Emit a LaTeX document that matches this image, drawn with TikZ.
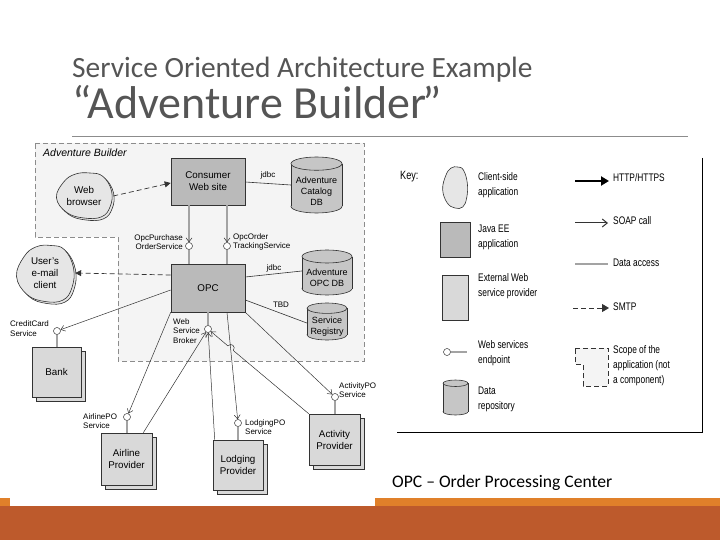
\documentclass[tikz,border=0pt]{standalone}
\usepackage{fontspec}
\setmainfont{Liberation Sans}
\newfontfamily\titlefont{Carlito}
\newfontfamily\narrowfont[FakeStretch=0.76]{Liberation Sans}
\usetikzlibrary{arrows.meta,shadows,calc}
\definecolor{javafill}{HTML}{BABABA}
\definecolor{provfill}{HTML}{D9D9D9}
\definecolor{cylfill}{HTML}{C6C6C6}
\definecolor{blobfill}{HTML}{E6E6E6}
\definecolor{scopefill}{HTML}{F4F4F4}
\definecolor{edge}{HTML}{333333}
\definecolor{stemgray}{HTML}{A3A3A3}
\definecolor{titlecol}{HTML}{555555}
\definecolor{rulecol}{HTML}{8C8C8C}
\definecolor{lightor}{HTML}{E0802A}
\definecolor{darkor}{HTML}{BD5A2C}
\newcommand{\mycyl}[5]{%
  \pgfmathsetmacro{\crx}{#4/2}%
  \pgfmathsetmacro{\cry}{#4*0.13}%
  \pgfmathsetmacro{\cyt}{#3-#5/2+\cry}%
  \pgfmathsetmacro{\cyb}{#3+#5/2-\cry}%
  \filldraw[cylstyle] (#2,\cyb) ellipse [x radius=\crx pt, y radius=\cry pt];
  \fill[cylfill] (#2-\crx,\cyt) rectangle (#2+\crx,\cyb);
  \draw[cylstyle] (#2-\crx,\cyt) -- (#2-\crx,\cyb) (#2+\crx,\cyt) -- (#2+\crx,\cyb);
  \filldraw[cylstyle] (#2,\cyt) ellipse [x radius=\crx pt, y radius=\cry pt];
  \node[minimum width=#4pt, minimum height=#5pt] (#1) at (#2,#3) {};
}
\newcommand{\myblob}[5]{%
  \draw[#5, shift={(#1,#2)}, xscale=#3, yscale=#4] plot[smooth cycle, tension=0.7] coordinates {(0.2,-1) (0.65,-0.85) (0.95,-0.2) (0.9,0.5) (0.6,0.95) (0,1) (-0.6,0.75) (-0.95,0.1) (-0.7,-0.6) (-0.3,-0.95)};
}
\begin{document}
\begin{tikzpicture}[x=1pt,y=-1pt,
  every node/.style={inner sep=0pt},
  boxfont/.style={font=\fontsize{9.8}{12}\selectfont},
  cylfont/.style={font=\fontsize{9}{11}\selectfont},
  javabox/.style={draw=edge, fill=javafill, line width=0.6pt, align=center, boxfont},
  provbox/.style={draw=edge, fill=provfill, line width=0.6pt, align=center, boxfont,
     copy shadow={shadow xshift=4pt, shadow yshift=-4pt, fill=provfill, draw=edge, line width=0.6pt}},
  cylstyle/.style={draw=edge, fill=cylfill, line width=0.6pt},
  blobstyle/.style={draw=edge, fill=blobfill, line width=0.6pt},
  ep/.style={circle, draw=edge, fill=white, minimum size=7pt, line width=0.5pt},
  stem/.style={draw=stemgray, line width=1.2pt},
  soap/.style={draw=edge, line width=0.5pt, -{Straight Barb[length=4pt,width=6pt]}},
  soapgray/.style={draw=stemgray, line width=1.6pt, -{Straight Barb[length=4pt,width=6pt,color=edge,line width=0.5pt]}},
  smtp/.style={draw=edge, line width=0.7pt, dash pattern=on 5pt off 3pt, -{Triangle[length=6pt,width=6pt]}},
  http/.style={draw=black, line width=2pt, -{Triangle[length=8pt,width=9pt]}},
  dataline/.style={draw=edge, line width=0.6pt},
  scopebox/.style={draw=rulecol, fill=scopefill, line width=0.7pt, dash pattern=on 5pt off 3pt},
  lbl/.style={font=\fontsize{8}{9.5}\selectfont, align=left},
  leg/.style={font=\narrowfont\fontsize{11}{15}\selectfont, align=left}]
\useasboundingbox (0,0) rectangle (720,540);
% bottom bars
\fill[lightor] (0,498) rectangle (720,506);
\fill[darkor] (0,506) rectangle (720,540);
\fill[white] (10,498) rectangle (375,506);
% titles
\node[anchor=base west, font=\titlefont\fontsize{29.4}{34}\selectfont, text=titlecol] (t1) at (72,77.5) {Service Oriented Architecture Example};
\node[anchor=base west, font=\titlefont\fontsize{46}{50}\selectfont, text=titlecol] (t2) at (72,119) {“Adventure Builder\kern-4pt”};
\draw[rulecol, line width=0.8pt] (72,136) -- (688,136);
\node[anchor=base west, font=\titlefont\fontsize{17.6}{20}\selectfont] (opcnote) at (392,487) {OPC – Order Processing Center};
% scope of application
\draw[scopebox] (35,143) -- (364,143) -- (364,361) -- (118,361) -- (118,237) -- (35,237) -- cycle;
\node[anchor=base west, font=\itshape\fontsize{10.5}{12}\selectfont] (abl) at (43,157) {Adventure Builder};
% client blobs
\myblob{86}{197.5}{29}{22.5}{blobstyle}
\myblob{84}{195.5}{29}{22.5}{blobstyle}
\node[boxfont, align=center, minimum width=58pt, minimum height=44pt] (wb) at (84,196) {Web\\browser};
\myblob{47}{275.5}{30}{28}{blobstyle}
\myblob{45}{273.5}{30}{28}{blobstyle}
\node[boxfont, align=center, minimum width=60pt, minimum height=54pt] (uec) at (45,273) {User's\\e-mail\\client};
% Java EE apps
\node[javabox, minimum width=74pt, minimum height=47pt] (cws) at (208,181.5) {Consumer\\Web site};
\node[javabox, minimum width=74pt, minimum height=48pt] (opc) at (208,288) {OPC};
% data repositories
\mycyl{catdb}{316.5}{185}{51}{56}
\node[cylfont, align=center] (catdbT) at (316.5,191) {Adventure\\Catalog\\DB};
\mycyl{opcdb}{327}{272.5}{50}{45}
\node[cylfont, align=center] (opcdbT) at (327,277.5) {Adventure\\OPC DB};
\mycyl{reg}{327}{321.5}{40}{37}
\node[cylfont, align=center] (regT) at (327,327) {Service\\Registry};
% external providers
\node[provbox, minimum width=49pt, minimum height=50pt] (bank) at (56.5,372) {Bank};
\node[provbox, minimum width=51pt, minimum height=52pt] (air) at (126.5,459) {Airline\\Provider};
\node[provbox, minimum width=50pt, minimum height=50pt] (lod) at (238,465) {Lodging\\Provider};
\node[provbox, minimum width=51pt, minimum height=51pt] (act) at (334.5,439.5) {Activity\\Provider};
% endpoints
\node[ep] (epP) at (189,246) {};
\node[ep] (epT) at (227,246) {};
\node[ep] (epCC) at (57,331) {};
\node[ep] (brk) at (208,329) {};
\node[ep] (epAir) at (127,417) {};
\node[ep] (epLod) at (238,423) {};
\node[ep] (epAct) at (335,397) {};
% stems
\draw[stem] (epP.south) -- (epP |- opc.north);
\draw[stem] (epT.south) -- (epT |- opc.north);
\draw[stem] (epCC.south) -- (epCC |- bank.north);
\draw[stem] (brk.north) -- (brk |- opc.south);
\draw[stem] (epAir.south) -- (epAir |- air.north);
\draw[stem] (epLod.south) -- (epLod |- lod.north);
\draw[stem] (epAct.south) -- (epAct |- act.north);
% consumer to OPC services
\draw[soapgray] (epP |- cws.south) -- (epP.north);
\draw[soapgray] (epT |- cws.south) -- (epT.north);
% HTTP / SMTP
\draw[smtp] (wb.east) -- ([yshift=-1.5pt]cws.west);
\draw[smtp] ([yshift=13pt]opc.west) -- (uec.east);
% data access
\draw[dataline] ([yshift=-0.5pt]cws.east) -- (catdb.west);
\draw[dataline] ([yshift=11pt]opc.east) -- ([yshift=1.5pt]opcdb.west);
\draw[dataline] ([yshift=-12pt]opc.east) -- ([yshift=-1.5pt]reg.west);
\node[lbl] (j1) at (268,175.5) {jdbc};
\node[lbl] (j2) at (274,268) {jdbc};
\node[lbl] (tbd) at (281,304.5) {TBD};
% SOAP calls
\draw[soap] ([yshift=-2pt]opc.west) -- (epCC);
\draw[soap] (opc.south west) -- (epAir);
\draw[soap] ([xshift=-9pt]air.north east) -- (brk);
\draw[soap] ([xshift=2pt]lod.north west) -- (brk);
\draw[soap] ([xshift=19pt]opc.south) -- (epLod);
\draw[soap] (opc.south east) -- (epAct);
\coordinate (hopA) at (233.3,350.5);
\coordinate (hopB) at (227.9,345.9);
\draw[soap] (act.north west) -- (hopA) .. controls (236.5,346.7) and (231.1,342.1) .. (hopB) -- (brk);
% labels
\node[lbl, anchor=east, align=right] (lPur) at (183,242) {OpcPurchase\\OrderService};
\node[lbl, anchor=west] (lTrk) at (233,242) {OpcOrder\\TrackingService};
\node[lbl, anchor=west] (lCC) at (10,328.5) {CreditCard\\Service};
\node[lbl, anchor=west] (lBrk) at (173,331) {Web\\Service\\Broker};
\node[lbl, anchor=west] (lAir) at (83,421) {AirlinePO\\Service};
\node[lbl, anchor=west] (lLod) at (245,427) {LodgingPO\\Service};
\node[lbl, anchor=west] (lAct) at (339,390) {ActivityPO\\Service};
% key
\draw[black, line width=1pt] (702,158) -- (702,432) -- (397,432);
\node[leg, anchor=west, font=\narrowfont\fontsize{12}{14}\selectfont] (key) at (400,177) {Key:};
\myblob{455}{187.5}{13}{20.5}{blobstyle}
\node[minimum width=26pt, minimum height=41pt] (kblob) at (455,187.5) {};
\node[leg, anchor=west] (kt1) at (478,185) {Client-side\\application};
\node[draw=edge, fill=javafill, line width=0.6pt, minimum width=30pt, minimum height=35pt] (kjava) at (455,239.5) {};
\node[leg, anchor=west] (kt2) at (478,237.5) {Java EE\\application};
\node[draw=edge, fill=provfill, line width=0.6pt, minimum width=26pt, minimum height=45pt] (kext) at (455,297.5) {};
\node[leg, anchor=west] (kt3) at (478,286) {External Web\\service provider};
\node[ep] (kep) at (447,352) {};
\coordinate (kepend) at (467,352);
\draw[stem] (kep.east) -- (kepend);
\node[leg, anchor=west] (kt4) at (478,353.5) {Web services\\endpoint};
\mycyl{kcyl}{455.5}{397.5}{25}{35}
\node[leg, anchor=west] (kt5) at (478,399) {Data\\repository};
\coordinate (hA) at (575,181); \coordinate (hB) at (609,181);
\draw[http] (hA) -- (hB);
\node[leg, anchor=west] (kr1) at (613,178) {HTTP/HTTPS};
\coordinate (sA) at (575,223); \coordinate (sB) at (608,223);
\draw[soap, line width=1pt, -{Straight Barb[length=5pt,width=8pt]}] (sA) -- (sB);
\node[leg, anchor=west] (kr2) at (613,221) {SOAP call};
\coordinate (dA) at (575,264); \coordinate (dB) at (608,264);
\draw[stem, line width=2pt] (dA) -- (dB);
\node[leg, anchor=west] (kr3) at (613,263) {Data access};
\coordinate (mA) at (573,308); \coordinate (mB) at (609,308);
\draw[smtp, line width=1pt, -{Triangle[length=7pt,width=8pt]}] (mA) -- (mB);
\node[leg, anchor=west] (kr4) at (613,307) {SMTP};
\draw[scopebox, draw=edge] (575,348) -- (608,348) -- (608,386) -- (583,386) -- (583,364) -- (575,364) -- cycle;
\node[leg, anchor=west] (kr5) at (613,366) {Scope of the\\application (not\\a component)};
\end{tikzpicture}
\end{document}
